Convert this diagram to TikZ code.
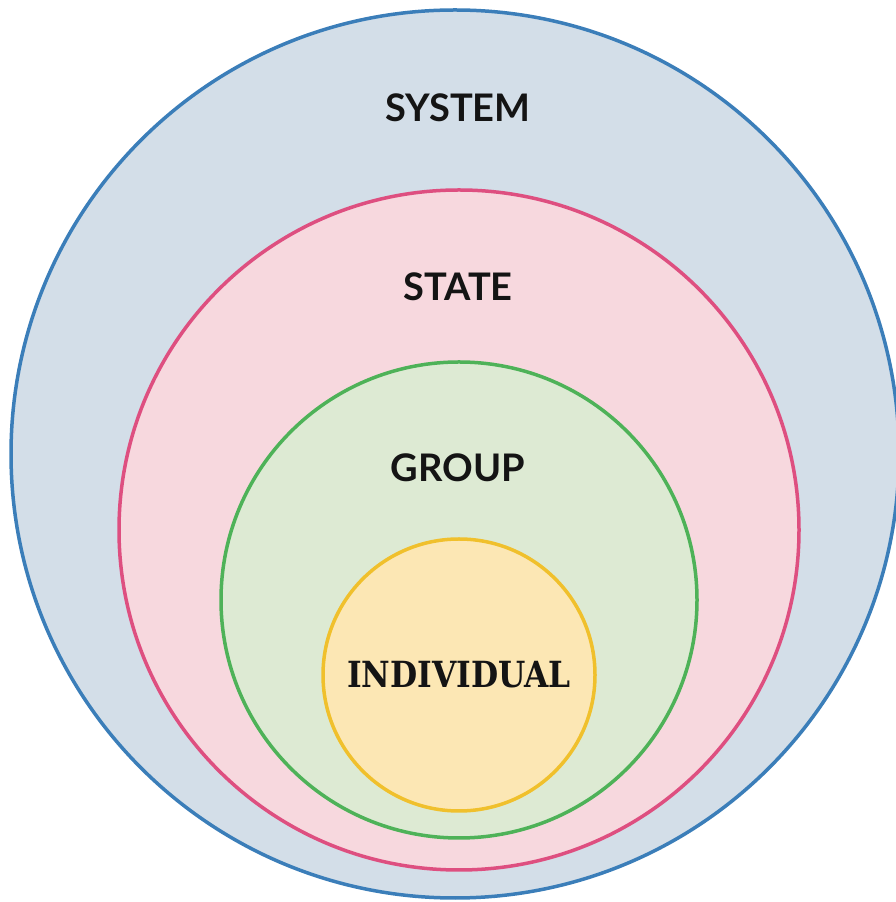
\documentclass[tikz,border=0pt]{standalone}
\usepackage{fontspec}
\usepackage{xcolor}
\usepackage{tikz}
\usetikzlibrary{positioning}
\newfontfamily\ringfont{Lato}
\newfontfamily\slabfont{DejaVu Serif}[BoldFont={DejaVu Serif Bold}, FakeStretch=0.87]

\definecolor{sysline}{HTML}{3B7EB9}
\definecolor{sysfill}{HTML}{D3DEE8}
\definecolor{stateline}{HTML}{DE4F80}
\definecolor{statefill}{HTML}{F7D8DE}
\definecolor{groupline}{HTML}{4EB258}
\definecolor{groupfill}{HTML}{DDEAD3}
\definecolor{indline}{HTML}{F0C02C}
\definecolor{indfill}{HTML}{FCE7B4}

\begin{document}
\begin{tikzpicture}[
    x=1pt, y=1pt,
    ring/.style={circle, draw, line width=3.5pt, inner sep=0pt},
    ringlabel/.style={font=\ringfont\bfseries\fontsize{38}{38}\selectfont, text=black!92, inner sep=0pt},
    slablabel/.style={font=\slabfont\bfseries\fontsize{36}{36}\selectfont, text=black!92, inner sep=0pt}
]
    \useasboundingbox (0,0) rectangle (896,902);

    % Rings
    \node[ring, draw=sysline, fill=sysfill, minimum size=888pt] (system) at (455,448) {};
    \node[ring, draw=stateline, fill=statefill, minimum size=680pt] (state) at (459,372) {};
    \node[ring, draw=groupline, fill=groupfill, minimum size=476pt] (group) at (459,302) {};
    \node[ring, draw=indline, fill=indfill, minimum size=272pt] (individual) at (459,227) {};

    % Labels
    \node[ringlabel] (systemtext) at (458,794) {SYSTEM};
    \node[ringlabel] (statetext) at (458,615) {STATE};
    \node[ringlabel] (grouptext) at (458,434) {GROUP};
    \node[slablabel] (indtext) at (459,227) {INDIVIDUAL};

\end{tikzpicture}
\end{document}
